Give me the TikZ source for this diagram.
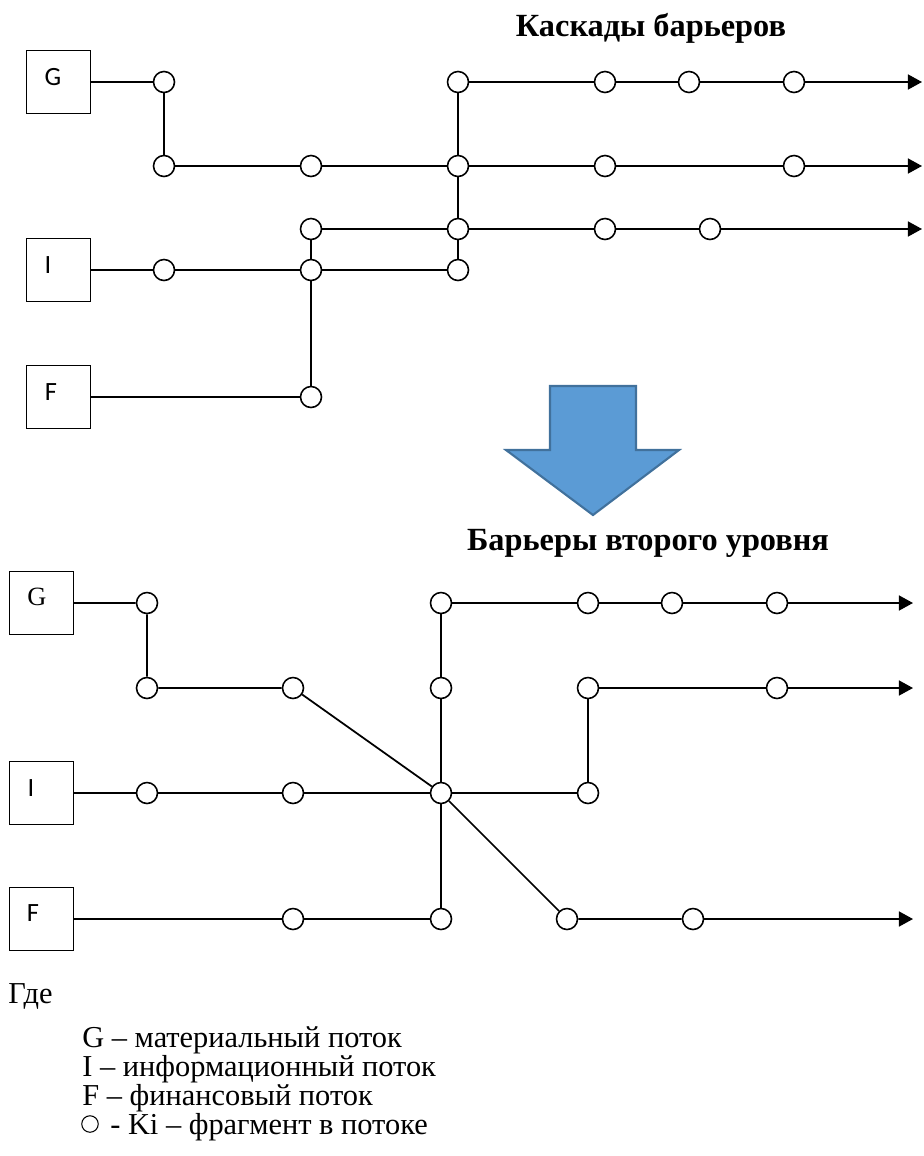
\documentclass[tikz,border=0pt]{standalone}
\usepackage{fontspec}
\setmainfont{Liberation Serif}
\newfontfamily\calfont{Carlito}
\newcommand\legendfont{\fontsize{17.3}{16.5}\selectfont\lineskiplimit=-20pt\relax}
\usetikzlibrary{arrows.meta}
\tikzset{>={Triangle[length=8pt,width=8.5pt]}}
\tikzset{
  flowbox/.style={draw, line width=0.8pt, minimum size=1.27cm, inner sep=0pt},
  fragm/.style={circle, draw, fill=white, line width=0.9pt, minimum size=0.42cm, inner sep=0pt},
  flow/.style={line width=1pt},
  lbl/.style={font=\calfont\fontsize{15}{18}\selectfont, inner sep=0pt},
  slbl/.style={font=\fontsize{15}{18}\selectfont, inner sep=0pt},
  ttl/.style={font=\bfseries\fontsize{18.4}{22}\selectfont, inner sep=0pt, anchor=base},
  legend/.style={font=\legendfont, inner sep=0pt, anchor=base west}
}

\begin{document}
\begin{tikzpicture}[x=0.02cm, y=-0.02cm]
    \useasboundingbox (0,0) rectangle (923,1156);

    % cascades
    \node[ttl] (ttl1) at (651,36) {Каскады барьеров};

    \node[flowbox] (tG) at (58.5,82) {};
    \node[lbl] (tGl) at (53,77) {G};
    \node[flowbox] (tI) at (58.5,270) {};
    \node[lbl] (tIl) at (48,265) {I};
    \node[flowbox] (tF) at (58.5,397) {};
    \node[lbl] (tFl) at (51,392) {F};

    \node[fragm] (t1) at (164,82) {};
    \node[fragm] (t2) at (164,166) {};
    \node[fragm] (t3) at (311,166) {};
    \node[fragm] (t4) at (458,166) {};
    \node[fragm] (t5) at (605,166) {};
    \node[fragm] (t6) at (794,166) {};
    \node[fragm] (t7) at (458,82) {};
    \node[fragm] (t8) at (605,82) {};
    \node[fragm] (t9) at (689,82) {};
    \node[fragm] (t10) at (794,82) {};
    \node[fragm] (t11) at (311,229) {};
    \node[fragm] (t12) at (458,229) {};
    \node[fragm] (t13) at (605,229) {};
    \node[fragm] (t14) at (710,229) {};
    \node[fragm] (t15) at (164,270) {};
    \node[fragm] (t16) at (311,270) {};
    \node[fragm] (t17) at (458,270) {};
    \node[fragm] (t18) at (311,397) {};
    \coordinate (te1) at (922,82);
    \coordinate (te2) at (922,166);
    \coordinate (te3) at (922,229);

    \draw[flow] (tG) -- (t1) -- (t2) -- (t3) -- (t4) -- (t5) -- (t6);
    \draw[flow] (t7) -- (t4) -- (t12) -- (t17);
    \draw[flow] (t7) -- (t8) -- (t9) -- (t10);
    \draw[flow] (t11) -- (t12) -- (t13) -- (t14);
    \draw[flow] (tI) -- (t15) -- (t16) -- (t17);
    \draw[flow] (t11) -- (t16) -- (t18);
    \draw[flow] (tF) -- (t18);
    \draw[flow, ->] (t10) -- (te1);
    \draw[flow, ->] (t6) -- (te2);
    \draw[flow, ->] (t14) -- (te3);

    % big arrow
    \draw[line width=1.2pt, draw={rgb,255:red,65;green,113;blue,156}, fill={rgb,255:red,91;green,155;blue,213}]
      (550,386) -- (636,386) -- (636,450) -- (679,450) -- (593,515) -- (506,450) -- (550,450) -- cycle;

    % second level
    \node[ttl] (ttl2) at (648,550) {Барьеры второго уровня};

    \node[flowbox] (bG) at (41.5,603) {};
    \node[slbl] (bGl) at (37,597) {G};
    \node[flowbox] (bI) at (41.5,793) {};
    \node[lbl] (bIl) at (31,788) {I};
    \node[flowbox] (bF) at (41.5,919) {};
    \node[lbl] (bFl) at (33,913) {F};

    \node[fragm] (b1) at (147,603) {};
    \node[fragm] (b2) at (147,688) {};
    \node[fragm] (b3) at (293,688) {};
    \node[fragm] (b4) at (441,603) {};
    \node[fragm] (b5) at (588,603) {};
    \node[fragm] (b6) at (672,603) {};
    \node[fragm] (b7) at (777,603) {};
    \node[fragm] (b8) at (441,688) {};
    \node[fragm] (b9) at (588,688) {};
    \node[fragm] (b10) at (777,688) {};
    \node[fragm] (b11) at (147,793) {};
    \node[fragm] (b12) at (293,793) {};
    \node[fragm] (b13) at (441,793) {};
    \node[fragm] (b14) at (588,793) {};
    \node[fragm] (b15) at (293,919) {};
    \node[fragm] (b16) at (441,919) {};
    \node[fragm] (b17) at (567,919) {};
    \node[fragm] (b18) at (693,919) {};
    \coordinate (be1) at (913,603);
    \coordinate (be2) at (913,688);
    \coordinate (be3) at (913,919);

    \draw[flow] (bG) -- (b1) -- (b2) -- (b3) -- (b13) -- (b17) -- (b18);
    \draw[flow] (b4) -- (b8) -- (b13) -- (b16);
    \draw[flow] (b4) -- (b5) -- (b6) -- (b7);
    \draw[flow] (bI) -- (b11) -- (b12) -- (b13) -- (b14) -- (b9) -- (b10);
    \draw[flow] (bF) -- (b15) -- (b16);
    \draw[flow, ->] (b7) -- (be1);
    \draw[flow, ->] (b10) -- (be2);
    \draw[flow, ->] (b18) -- (be3);

    % legend
    \node[legend] (lg0) at (8,1003) {Где};
    \node[legend, align=left] (lg1) at (82,1134) {G – материальный поток\\
      I – информационный поток\\
      F – финансовый поток\\
      \hspace*{0.56cm}- Ki – фрагмент в потоке};
    \node[fragm, minimum size=0.33cm, line width=0.6pt] (lgk) at (90,1124) {};
\end{tikzpicture}
\end{document}
